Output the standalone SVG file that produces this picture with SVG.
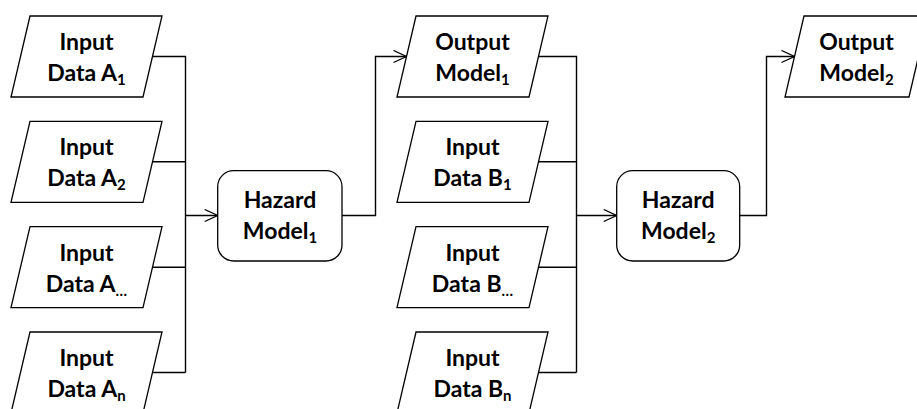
<svg xmlns="http://www.w3.org/2000/svg" width="917" height="409" viewBox="0 0 917 409">
<defs>
<style>
.s{fill:#fff;stroke:#000;stroke-width:1.3}
.c{fill:none;stroke:#000;stroke-width:1.4}
text{font-family:Lato,"Open Sans","Liberation Sans",sans-serif;font-weight:700;font-size:23px;fill:#000;text-anchor:middle}
.sub{font-size:15px}
</style>
<marker id="ah" markerUnits="userSpaceOnUse" markerWidth="16" markerHeight="14" refX="13.5" refY="6.5" orient="auto">
<path d="M0.5,0.5 L13.5,6.5 L0.5,12.5" fill="none" stroke="#000" stroke-width="1.3"/>
</marker>
</defs>
<rect width="917" height="409" fill="#fff"/>
<g id="connectors">
<path class="c" d="M152.5,56.5 H185.5 V372.5 M150,161.8 H185.5 M150,267.2 H185.5 M150,372.5 H185.5"/>
<path class="c" d="M185.5,215.5 H217.7" marker-end="url(#ah)"/>
<path class="c" d="M342,215.5 H375.5 V56.5 H406.5" marker-end="url(#ah)"/>
<path class="c" d="M538.5,56.5 H576.5 V372.5 M536,161.8 H576.5 M536,267.2 H576.5 M536,372.5 H576.5"/>
<path class="c" d="M576.5,215.5 H616.7" marker-end="url(#ah)"/>
<path class="c" d="M739.7,215.5 H766.5 V56.5 H794.5" marker-end="url(#ah)"/>
</g>
<g id="inA1"><polygon class="s" points="30,16 162,16 143,97 11,97"/><text x="86.5" y="50">Input</text><text x="86.5" y="81">Data A<tspan class="sub" dy="4">1</tspan></text></g>
<g id="inA2"><polygon class="s" points="30,121.3 162,121.3 143,202.3 11,202.3"/><text x="86.5" y="155.3">Input</text><text x="86.5" y="186.3">Data A<tspan class="sub" dy="4">2</tspan></text></g>
<g id="inA3"><polygon class="s" points="30,226.7 162,226.7 143,307.7 11,307.7"/><text x="86.5" y="260.7">Input</text><text x="86.5" y="291.7">Data A<tspan class="sub" dy="4">…</tspan></text></g>
<g id="inAn"><polygon class="s" points="30,332 162,332 143,413 11,413"/><text x="86.5" y="366">Input</text><text x="86.5" y="397">Data A<tspan class="sub" dy="4">n</tspan></text></g>
<g id="haz1"><rect class="s" x="217.7" y="170.7" width="124.3" height="90.3" rx="16"/><text x="280" y="208">Hazard</text><text x="280" y="239">Model<tspan class="sub" dy="4">1</tspan></text></g>
<g id="out1"><polygon class="s" points="416,16 548,16 529,97 397,97"/><text x="472.5" y="50">Output</text><text x="472.5" y="81">Model<tspan class="sub" dy="4">1</tspan></text></g>
<g id="inB1"><polygon class="s" points="416,121.3 548,121.3 529,202.3 397,202.3"/><text x="472.5" y="155.3">Input</text><text x="472.5" y="186.3">Data B<tspan class="sub" dy="4">1</tspan></text></g>
<g id="inB2"><polygon class="s" points="416,226.7 548,226.7 529,307.7 397,307.7"/><text x="472.5" y="260.7">Input</text><text x="472.5" y="291.7">Data B<tspan class="sub" dy="4">…</tspan></text></g>
<g id="inBn"><polygon class="s" points="416,332 548,332 529,413 397,413"/><text x="472.5" y="366">Input</text><text x="472.5" y="397">Data B<tspan class="sub" dy="4">n</tspan></text></g>
<g id="haz2"><rect class="s" x="616.7" y="170.7" width="123" height="90.3" rx="16"/><text x="678.2" y="208">Hazard</text><text x="678.2" y="239">Model<tspan class="sub" dy="4">2</tspan></text></g>
<g id="out2"><polygon class="s" points="804,16 928,16 909,97 785,97"/><text x="856.5" y="50">Output</text><text x="856.5" y="81">Model<tspan class="sub" dy="4">2</tspan></text></g>
</svg>
